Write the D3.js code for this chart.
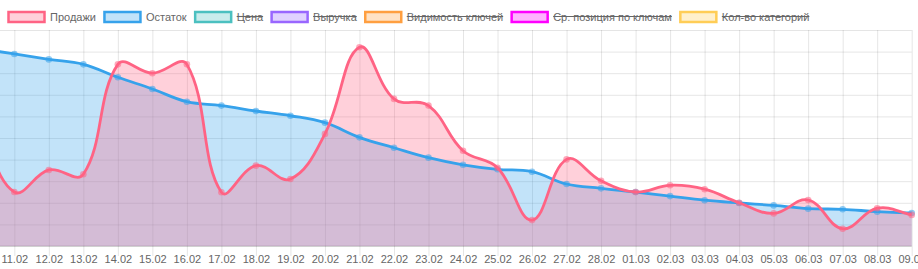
<!DOCTYPE html>
<html>
<head>
<meta charset="utf-8">
<script src="https://cdn.jsdelivr.net/npm/d3@7"></script>
<style>
  html, body { margin: 0; padding: 0; background: #fff; }
  svg { display: block; font-family: "Liberation Sans", Arial, Helvetica, sans-serif; }
</style>
</head>
<body>
<svg id="chart" width="918" height="269"></svg>
<script>
// dates on the x axis (10.02 sits just left of the visible area)
const dates = ['10.02', '11.02', '12.02', '13.02', '14.02', '15.02', '16.02', '17.02', '18.02', '19.02',
  '20.02', '21.02', '22.02', '23.02', '24.02', '25.02', '26.02', '27.02', '28.02',
  '01.03', '02.03', '03.03', '04.03', '05.03', '06.03', '07.03', '08.03', '09.03']

// Продажи
const sales = [5.6, 2.50, 3.52, 3.32, 8.41, 8.00, 8.41, 2.49, 3.72, 3.10,
  5.19, 9.20, 6.81, 6.50, 4.41, 3.62, 1.20, 4.01, 3.02,
  2.50, 2.81, 2.63, 2.00, 1.51, 2.13, 0.80, 1.75, 1.44]

// Остаток
const stock = [9.14, 8.89, 8.64, 8.41, 7.81, 7.27, 6.68, 6.50, 6.25, 6.03,
  5.71, 5.03, 4.55, 4.09, 3.76, 3.55, 3.44, 2.87, 2.67,
  2.50, 2.31, 2.12, 1.99, 1.88, 1.73, 1.70, 1.59, 1.53]

// legend entries, hidden ones are struck through
const legendNames = ['Продажи', 'Остаток', 'Цена', 'Выручка', 'Видимость ключей', 'Ср. позиция по ключам', 'Кол-во категорий']
const legendColors = ['255,99,132', '54,162,235', '75,192,192', '153,102,255', '255,159,64', '255,0,255', '255,205,86']
const legendHidden = [false, false, true, true, true, true, true]

const svg = d3.select('#chart')
const areaTop = 30, areaBottom = 246, areaRight = 911.7
const fontSize = '11px'

let x = d3.scalePoint().domain(dates).range([-20.2, areaRight])
let y = d3.scaleLinear().domain([0, 10]).range([areaBottom, areaTop])

// spline like chart.js (tension 0.4, distance weighted control points)
function ChartSpline(context) { this._context = context }
ChartSpline.prototype = {
  areaStart() { this._line = 0 },
  areaEnd() { this._line = NaN },
  lineStart() { this._x = []; this._y = [] },
  point(px, py) { this._x.push(+px); this._y.push(+py) },
  lineEnd() {
    const xs = this._x, ys = this._y, n = xs.length, c = this._context, t = 0.4
    if (n) {
      this._line ? c.lineTo(xs[0], ys[0]) : c.moveTo(xs[0], ys[0])
      const cp = []
      for (let i = 0; i < n; i++) {
        const p = i > 0 ? i - 1 : i, q = i < n - 1 ? i + 1 : i
        const d01 = Math.hypot(xs[i] - xs[p], ys[i] - ys[p])
        const d12 = Math.hypot(xs[q] - xs[i], ys[q] - ys[i])
        let s01 = d01 / (d01 + d12), s12 = d12 / (d01 + d12)
        if (isNaN(s01)) s01 = 0
        if (isNaN(s12)) s12 = 0
        const fa = t * s01, fb = t * s12
        cp.push({
          px: xs[i] - fa * (xs[q] - xs[p]), py: ys[i] - fa * (ys[q] - ys[p]),
          nx: xs[i] + fb * (xs[q] - xs[p]), ny: ys[i] + fb * (ys[q] - ys[p])
        })
      }
      for (let i = 1; i < n; i++) c.bezierCurveTo(cp[i - 1].nx, cp[i - 1].ny, cp[i].px, cp[i].py, xs[i], ys[i])
    }
    if (this._line || (this._line !== 0 && n === 1)) c.closePath()
    this._line = 1 - this._line
    this._x = this._y = null
  }
}
const chartCurve = ctx => new ChartSpline(ctx)

// horizontal grid
svg.append('g')
  .call(d3.axisLeft(y).ticks(10).tickSize(-areaRight).tickFormat(''))
  .call(g => g.select('.domain').remove())
  .call(g => g.selectAll('line').attr('stroke', 'rgba(0,0,0,0.1)'))

// vertical grid incl. tick marks below the axis
svg.append('g').attr('transform', `translate(0,${areaTop})`)
  .call(d3.axisBottom(x).tickSize(areaBottom - areaTop + 10).tickFormat(''))
  .call(g => g.select('.domain').remove())
  .call(g => g.selectAll('line').attr('stroke', 'rgba(0,0,0,0.1)'))

// base line
svg.append('line').attr('x1', 0).attr('x2', areaRight).attr('y1', y(0)).attr('y2', y(0))
  .attr('stroke', 'rgba(0,0,0,0.18)')

// x labels
svg.append('g').attr('transform', `translate(0,${areaBottom})`)
  .call(d3.axisBottom(x).tickSize(0).tickPadding(9.5))
  .call(g => g.select('.domain').remove())
  .call(g => g.selectAll('text').attr('fill', '#666').style('font-size', fontSize)
    .style('font-family', '"Liberation Sans", Arial, sans-serif'))

// datasets in reverse order like chart.js: Остаток first, Продажи on top
const series = [
  { values: stock, color: legendColors[1] },
  { values: sales, color: legendColors[0] }
].map(s => Object.assign(s, { pts: s.values.map((v, i) => ({ d: dates[i], v: v })) }))

let area = d3.area().x(p => x(p.d)).y0(y(0)).y1(p => y(p.v)).curve(chartCurve)
let line = d3.line().x(p => x(p.d)).y(p => y(p.v)).curve(chartCurve)

// all fills first
series.forEach(s => {
  svg.append('path').datum(s.pts).attr('d', area).attr('fill', `rgba(${s.color},0.3)`)
})
// then lines and points
series.forEach(s => {
  svg.append('path').datum(s.pts).attr('d', line).attr('fill', 'none')
    .attr('stroke', `rgb(${s.color})`).attr('stroke-width', 2.8)
  svg.append('g').selectAll('circle').data(s.pts).enter().append('circle')
    .attr('cx', p => x(p.d)).attr('cy', p => y(p.v)).attr('r', 3.3)
    .attr('fill', `rgba(${s.color},0.55)`)
})

// legend
const legend = svg.append('g')
let lx = 8.5
legendNames.forEach((name, i) => {
  legend.append('rect').attr('x', lx).attr('y', 12).attr('width', 36).attr('height', 10)
    .attr('fill', `rgba(${legendColors[i]},0.3)`).attr('stroke', `rgb(${legendColors[i]})`).attr('stroke-width', 2.5)
  const tx = lx + 41.5
  const txt = legend.append('text').attr('x', tx).attr('y', 20.5).attr('fill', '#666')
    .style('font-size', fontSize).text(name)
  const w = txt.node().getComputedTextLength()
  if (legendHidden[i]) {
    legend.append('line').attr('x1', tx).attr('x2', tx + w).attr('y1', 16.5).attr('y2', 16.5)
      .attr('stroke', '#666').attr('stroke-width', 1.1)
  }
  lx = tx + w + 8.5
})
</script>
</body>
</html>
